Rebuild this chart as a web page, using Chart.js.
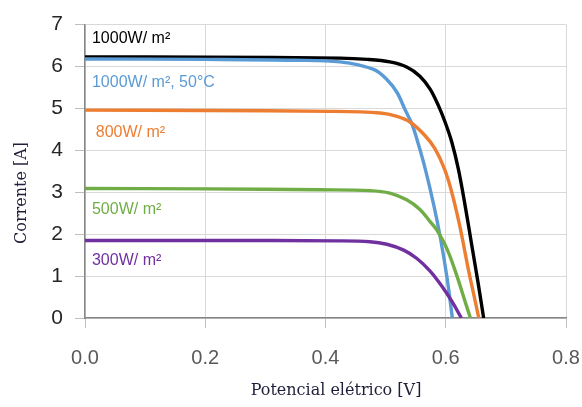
<!DOCTYPE html>
<html>
<head>
<meta charset="utf-8">
<script src="https://cdn.jsdelivr.net/npm/chart.js"></script>
<style>
  html, body { margin: 0; padding: 0; background: #fff; }
  #wrap { width: 582px; height: 407px; }
</style>
</head>
<body>
<div id="wrap"><canvas id="chartIV"></canvas></div>
<script>
// curvas I-V
var v1000 = [0, 0.2, 0.424, 0.47, 0.507, 0.535, 0.557, 0.574, 0.588, 0.599, 0.610, 0.621, 0.632, 0.643, 0.654, 0.663];
var i1000 = [6.23, 6.22, 6.20, 6.17, 6.11, 5.99, 5.77, 5.46, 5.06, 4.67, 4.2, 3.55, 2.70, 1.76, 0.82, 0];

var v1000q = [0, 0.2, 0.35, 0.424, 0.48, 0.502, 0.519, 0.532, 0.544, 0.555, 0.566, 0.580, 0.591, 0.602, 0.611];
var i1000q = [6.18, 6.17, 6.15, 6.11, 5.93, 5.69, 5.38, 4.98, 4.62, 4.12, 3.55, 2.70, 1.92, 0.97, 0];

var v800 = [0, 0.2, 0.408, 0.491, 0.519, 0.541, 0.565, 0.582, 0.598, 0.610, 0.624, 0.638, 0.649, 0.655];
var i800 = [4.96, 4.95, 4.93, 4.89, 4.81, 4.67, 4.36, 4.04, 3.55, 3.0, 2.15, 1.13, 0.40, 0];

var v500 = [0, 0.2, 0.391, 0.474, 0.507, 0.535, 0.557, 0.574, 0.585, 0.602, 0.618, 0.632, 0.641];
var i500 = [3.09, 3.08, 3.06, 3.04, 2.98, 2.82, 2.59, 2.30, 2.10, 1.65, 1.03, 0.40, 0];

var v300 = [0, 0.2, 0.42, 0.474, 0.502, 0.530, 0.552, 0.574, 0.593, 0.610, 0.626];
var i300 = [1.85, 1.85, 1.84, 1.82, 1.76, 1.62, 1.42, 1.12, 0.77, 0.40, 0];

var nomes = ["1000W/ m²", "1000W/ m², 50°C", "800W/ m²", "500W/ m²", "300W/ m²"];
var cores = ["#000000", "#5B9BD5", "#ED7D31", "#70AD47", "#7030A0"];
var xTicks = [0, 0.2, 0.4, 0.6, 0.8];
var yTicks = [0, 1, 2, 3, 4, 5, 6, 7];
var tituloX = "Potencial elétrico [V]";
var tituloY = "Corrente [A]";

// onde fica cada rotulo (em unidades do grafico)
var rotX = [0.0116, 0.0116, 0.018, 0.0116, 0.0116];
var rotY = [6.67, 5.61, 4.43, 2.59, 1.37];

function pontos(vs, is) {
    return vs.map(function (v, k) { return { x: v, y: is[k] }; });
}

var series = [[v300, i300], [v500, i500], [v800, i800], [v1000q, i1000q], [v1000, i1000]];
var ordem = [4, 3, 2, 1, 0];

var rotulos = {
    id: "rotulos",
    afterDatasetsDraw: function (chart) {
        var ctx = chart.ctx;
        var sx = chart.scales.x, sy = chart.scales.y;
        ctx.save();
        ctx.font = "16px 'Liberation Sans', Arial, sans-serif";
        ctx.textBaseline = "middle";
        ctx.textAlign = "left";
        nomes.forEach(function (n, k) {
            ctx.fillStyle = cores[k];
            ctx.fillText(n, sx.getPixelForValue(rotX[k]), sy.getPixelForValue(rotY[k]));
        });
        // titulos dos eixos
        ctx.fillStyle = "#1e1e3a";
        ctx.font = "16px 'DejaVu Serif', serif";
        ctx.textAlign = "center";
        ctx.fillText(tituloX, 336, 391);
        ctx.translate(22, 193);
        ctx.rotate(-Math.PI / 2);
        ctx.fillText(tituloY, 0, 0);
        ctx.restore();
    }
};

var cti = document.getElementById("chartIV");

var grafico = new Chart(cti, {
    type: 'line',
    data: {
        datasets: series.map(function (s, j) {
            var k = ordem[j];
            return {
                label: nomes[k],
                data: pontos(s[0], s[1]),
                borderColor: cores[k],
                backgroundColor: cores[k],
                borderWidth: 3.4,
                pointRadius: 0,
                tension: 0.35,
                fill: false
            };
        })
    },
    options: {
        responsive: true,
        maintainAspectRatio: false,
        animation: false,
        layout: { padding: { top: 21, right: 0, left: 0, bottom: 0 } },
        plugins: { legend: { display: false }, tooltip: { enabled: false } },
        scales: {
            x: {
                type: 'linear',
                min: 0, max: 0.8,
                afterBuildTicks: function (s) { s.ticks = xTicks.map(function (v) { return { value: v }; }); },
                afterFit: function (s) { s.height = 89; s.paddingRight = 16; s.paddingLeft = 0; },
                ticks: {
                    padding: 18,
                    color: '#595959',
                    font: { family: "'Liberation Sans', Arial, sans-serif", size: 20 },
                    callback: function (v) { return v.toFixed(1); }
                },
                grid: { color: '#d9d9d9', lineWidth: 1, tickLength: 10, tickColor: '#bfbfbf' },
                border: { color: '#868686', width: 1.5 }
            },
            y: {
                min: 0, max: 7,
                afterBuildTicks: function (s) { s.ticks = yTicks.map(function (v) { return { value: v }; }); },
                afterFit: function (s) { s.width = 85; },
                ticks: {
                    padding: 12,
                    color: '#262626',
                    font: { family: "'Liberation Sans', Arial, sans-serif", size: 21 }
                },
                grid: { color: '#d9d9d9', lineWidth: 1, tickLength: 10, tickColor: '#bfbfbf' },
                border: { color: '#868686', width: 1.5 }
            }
        }
    },
    plugins: [rotulos]
});
</script>
</body>
</html>
